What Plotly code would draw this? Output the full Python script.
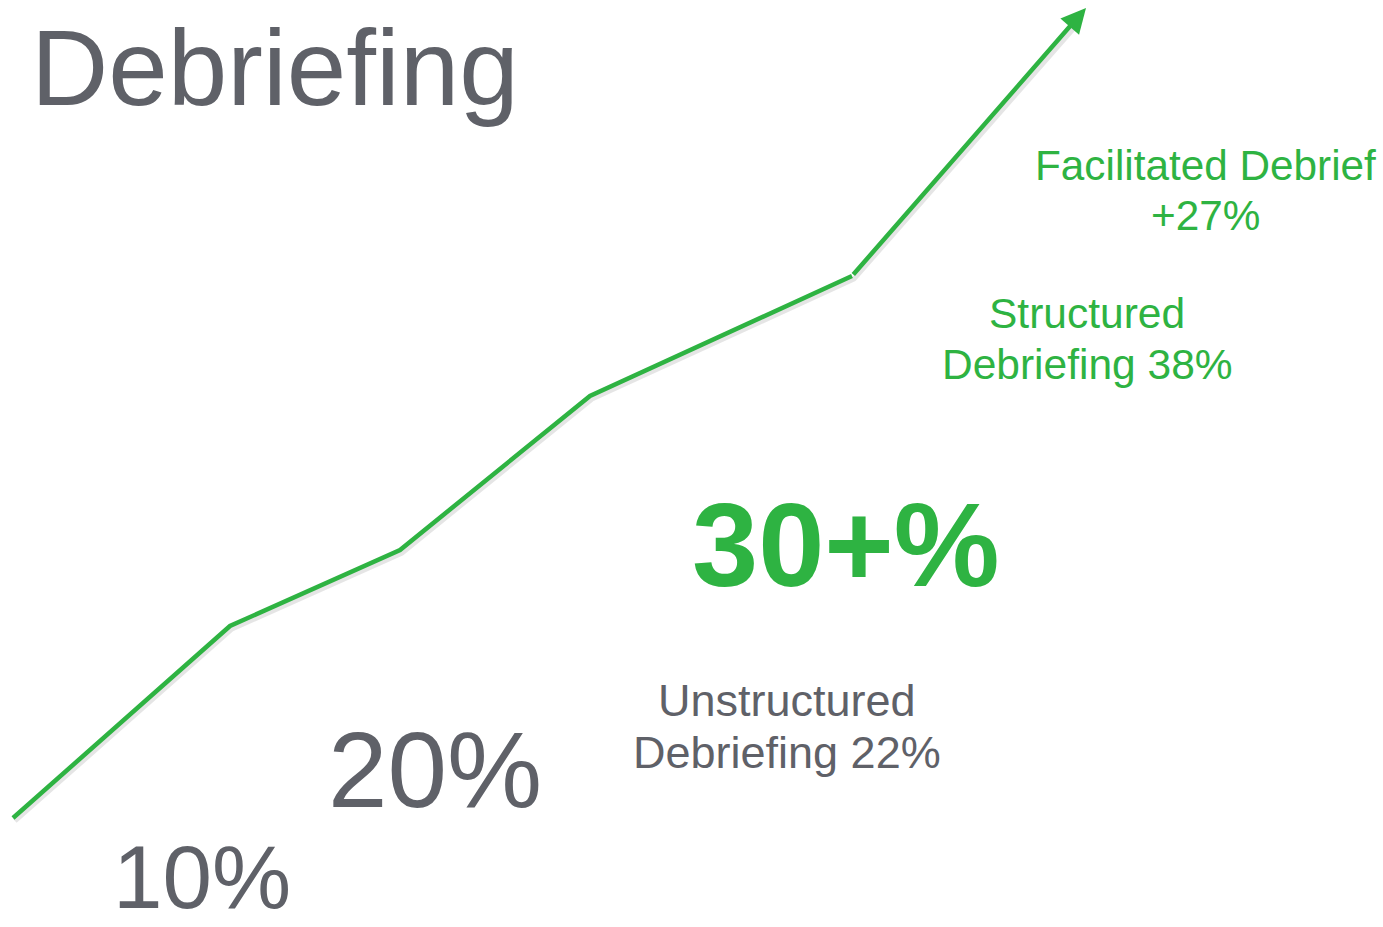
import plotly.graph_objects as go

# Conceptual growth path (canvas-style units: x to the right, y upward)
path_x = [13, 230, 400, 590, 852]
path_y = [109, 301, 377, 531, 651]
tip_x, tip_y = 1086, 919

title_text = "Debriefing"
big_labels = ["10%", "20%"]
highlight_label = "30+%"
unstructured_lines = ["Unstructured", "Debriefing 22%"]
structured_lines = ["Structured", "Debriefing 38%"]
facilitated_lines = ["Facilitated Debrief", "+27%"]

GREEN = "#2eb342"
GRAY = "#5f6168"
FONT = "Liberation Sans, Arial, sans-serif"

fig = go.Figure()

# soft shadow under the line
fig.add_trace(go.Scatter(
    x=[v + 2 for v in path_x + [tip_x - 14]],
    y=[v - 3 for v in path_y + [tip_y - 17]],
    mode="lines", line=dict(color="rgba(0,0,0,0.10)", width=5),
    hoverinfo="skip", showlegend=False))

fig.add_trace(go.Scatter(
    x=path_x, y=path_y, mode="lines",
    line=dict(color=GREEN, width=4.5), hoverinfo="skip", showlegend=False))

annotations = []
# arrow final segment
annotations.append(dict(
    x=tip_x, y=tip_y, ax=path_x[-1], ay=path_y[-1],
    xref="x", yref="y", axref="x", ayref="y",
    showarrow=True, arrowhead=2, arrowsize=1.1, arrowwidth=4.5,
    arrowcolor=GREEN, text=""))

def txt(t, x, y, size, color, bold=False):
    annotations.append(dict(
        x=x, y=y, xref="x", yref="y", text=(f"<b>{t}</b>" if bold else t),
        showarrow=False, xanchor="center", yanchor="middle",
        font=dict(family=FONT, size=size, color=color)))

txt(title_text, 275, 859, 107, GRAY)
txt(big_labels[0], 202, 50, 89, GRAY)
txt(big_labels[1], 435, 157, 107, GRAY)
txt(highlight_label, 846, 383, 119, GREEN, bold=True)
txt(unstructured_lines[0], 787, 227, 45, GRAY)
txt(unstructured_lines[1], 787, 175, 45, GRAY)
txt(structured_lines[0], 1087, 614, 42.5, GREEN)
txt(structured_lines[1], 1087, 563, 42.5, GREEN)
txt(facilitated_lines[0], 1205, 762, 42.3, GREEN)
txt(facilitated_lines[1], 1205, 712, 42.3, GREEN)

fig.update_layout(
    width=1383, height=927,
    margin=dict(l=0, r=0, t=0, b=0),
    paper_bgcolor="white", plot_bgcolor="white",
    xaxis=dict(range=[0, 1383], visible=False, fixedrange=True),
    yaxis=dict(range=[0, 927], visible=False, fixedrange=True),
    annotations=annotations,
    showlegend=False,
)

fig.write_html("out.html", config={"displayModeBar": False})
